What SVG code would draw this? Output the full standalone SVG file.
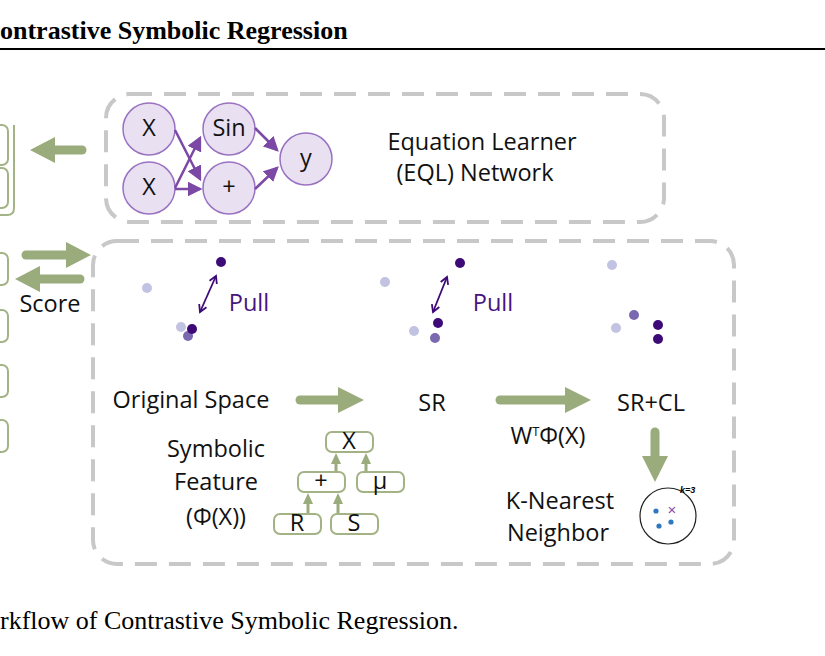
<svg xmlns="http://www.w3.org/2000/svg" width="825" height="656" viewBox="0 0 825 656">
<defs>
<style>
.t{font-family:"Open Sans","Liberation Sans",sans-serif;font-size:23.5px;fill:#111;text-anchor:middle}
.s{font-family:"Liberation Serif",serif;fill:#000}
.dash{fill:none;stroke:#c8c8c8;stroke-width:4;stroke-dasharray:22 12}
.n{fill:#e9e1f2;stroke:#9a72c2;stroke-width:1.5}
.e{stroke:#7b48a5;stroke-width:2.5;fill:none;marker-end:url(#pa)}
.g{stroke:#9aab7c;stroke-width:9;stroke-linecap:round;fill:none}
.gb{fill:#fff;stroke:#a3b386;stroke-width:2}
.gs{stroke:#9aab7c;stroke-width:3;fill:none}
.lb{fill:none;stroke:#a3b386;stroke-width:2}
</style>
<marker id="pa" markerWidth="6" markerHeight="6" refX="5" refY="3" orient="auto" markerUnits="strokeWidth"><path d="M0,0L6,3L0,6z" fill="#7b48a5"/></marker>
<marker id="pl" markerWidth="10" markerHeight="10" refX="8" refY="5" orient="auto" markerUnits="userSpaceOnUse"><path d="M1,1L8,5L1,9" fill="none" stroke="#3d0a78" stroke-width="1.8"/></marker>
<marker id="pls" markerWidth="10" markerHeight="10" refX="2" refY="5" orient="auto" markerUnits="userSpaceOnUse"><path d="M9,1L2,5L9,9" fill="none" stroke="#3d0a78" stroke-width="1.8"/></marker>
</defs>
<rect width="825" height="656" fill="#fff"/>
<text class="s" x="0" y="39" font-size="26" font-weight="bold">ontrastive Symbolic Regression</text>
<line x1="0" y1="49" x2="825" y2="49" stroke="#000" stroke-width="2"/>
<text class="s" x="0" y="629" font-size="26">rkflow of Contrastive Symbolic Regression.</text>

<g id="left-boxes">
<rect class="lb" x="-20" y="125" width="28" height="40" rx="6"/>
<rect class="lb" x="-20" y="168" width="28" height="40" rx="6"/>
<path class="lb" d="M14,125V208Q14,215 7,215H-5"/>
<rect class="lb" x="-20" y="253" width="28" height="32" rx="6"/>
<rect class="lb" x="-20" y="310" width="28" height="32" rx="6"/>
<rect class="lb" x="-20" y="365" width="28" height="32" rx="6"/>
<rect class="lb" x="-20" y="420" width="28" height="32" rx="6"/>
</g>

<g id="eql">
<rect class="dash" x="106" y="94" width="558" height="128" rx="24"/>
<text class="t" x="482" y="150">Equation Learner</text>
<text class="t" x="475" y="181">(EQL) Network</text>
</g>
<g id="nodes">
<g id="nx1"><circle class="n" cx="149" cy="129" r="26"/><text class="t" x="149" y="136" font-size="18">X</text></g>
<g id="nx2"><circle class="n" cx="149" cy="188" r="26"/><text class="t" x="149" y="195" font-size="18">X</text></g>
<g id="nsin"><circle class="n" cx="229" cy="129" r="26"/><text class="t" x="229" y="136" font-size="18">Sin</text></g>
<g id="nplus"><circle class="n" cx="229" cy="188" r="26"/><text class="t" x="229" y="195" font-size="18">+</text></g>
<g id="ny"><circle class="n" cx="306" cy="159" r="26"/><text class="t" x="306" y="166" font-size="18">y</text></g>
</g>
<g id="connectors">
<line class="e" x1="175" y1="130" x2="200" y2="179"/>
<line class="e" x1="175" y1="188" x2="200" y2="138"/>
<line class="e" x1="175" y1="189" x2="200" y2="189"/>
<line class="e" x1="255" y1="128" x2="277" y2="150"/>
<line class="e" x1="255" y1="189" x2="277" y2="168"/>
<line class="g" x1="82" y1="150" x2="52" y2="150"/><path d="M30,150L55,137V163z" fill="#9aab7c"/>
<line class="g" x1="26" y1="255" x2="68" y2="255"/><path d="M91,255L66,242V268z" fill="#9aab7c"/>
<line class="g" x1="80" y1="279" x2="38" y2="279"/><path d="M15,279L40,266V292z" fill="#9aab7c"/>
<line class="g" x1="300" y1="400" x2="340" y2="400"/><path d="M364,400L338,387V413z" fill="#9aab7c"/>
<line class="g" x1="500" y1="400" x2="566" y2="400"/><path d="M591,400L565,387V413z" fill="#9aab7c"/>
<line class="g" x1="655" y1="432" x2="655" y2="458"/><path d="M655,482L642,456H668z" fill="#9aab7c"/>
<line class="gs" x1="308" y1="514" x2="308" y2="502"/><path d="M308,493L303,504H313z" fill="#9aab7c"/>
<line class="gs" x1="338" y1="514" x2="338" y2="502"/><path d="M338,493L333,504H343z" fill="#9aab7c"/>
<line class="gs" x1="336" y1="472" x2="336" y2="462"/><path d="M336,453L331,464H341z" fill="#9aab7c"/>
<line class="gs" x1="366" y1="472" x2="366" y2="462"/><path d="M366,453L361,464H371z" fill="#9aab7c"/>
<line x1="200" y1="312" x2="216" y2="276" stroke="#3d0a78" stroke-width="1.8" marker-end="url(#pl)" marker-start="url(#pls)"/>
<line x1="433" y1="312" x2="447" y2="277" stroke="#3d0a78" stroke-width="1.8" marker-end="url(#pl)" marker-start="url(#pls)"/>
</g>

<g id="cl">
<rect class="dash" x="93" y="241" width="641" height="323" rx="24"/>
<text class="t" x="50" y="312">Score</text>
<circle cx="147" cy="288" r="5" fill="#c2c2e2"/><circle cx="221" cy="262" r="5" fill="#3d0a78"/>
<circle cx="181" cy="327" r="5" fill="#c2c2e2"/><circle cx="188" cy="336" r="5" fill="#7a68b0"/><circle cx="192" cy="329" r="5" fill="#3d0a78"/>
<text class="t" x="249" y="311" style="fill:#45157f">Pull</text>
<circle cx="385" cy="282" r="5" fill="#c2c2e2"/><circle cx="460" cy="263" r="5" fill="#3d0a78"/>
<circle cx="414" cy="331" r="5" fill="#c2c2e2"/><circle cx="435" cy="338" r="5" fill="#7a68b0"/><circle cx="438" cy="323" r="5" fill="#3d0a78"/>
<text class="t" x="493" y="311" style="fill:#45157f">Pull</text>
<circle cx="612" cy="265" r="5" fill="#c2c2e2"/><circle cx="616" cy="328" r="5" fill="#c2c2e2"/><circle cx="634" cy="315" r="5" fill="#7a68b0"/>
<circle cx="658" cy="325" r="5" fill="#3d0a78"/><circle cx="658" cy="339" r="5" fill="#3d0a78"/>
<text class="t" x="191" y="408">Original Space</text>
<text class="t" x="432" y="411">SR</text>
<text class="t" x="651" y="411">SR+CL</text>
<text class="t" x="216" y="457">Symbolic</text>
<text class="t" x="216" y="490">Feature</text>
<text class="t" x="216" y="525">(Φ(X))</text>
<text class="t" x="548" y="444">W<tspan font-size="13" dy="-8">T</tspan><tspan dy="8">Φ(X)</tspan></text>
<text class="t" x="560" y="509">K-Nearest</text>
<text class="t" x="558" y="541">Neighbor</text>
<circle cx="668" cy="516" r="28" fill="#fff" stroke="#222" stroke-width="1.2"/>
<text x="680" y="493" font-family="Liberation Sans,sans-serif" font-size="9" font-weight="bold" font-style="italic">k=3</text>
<circle cx="656" cy="511" r="2.6" fill="#2f78bf"/><circle cx="659" cy="526" r="2.6" fill="#2f78bf"/><circle cx="671" cy="522" r="2.6" fill="#2f78bf"/>
<text x="672" y="515" font-family="Liberation Sans,sans-serif" font-size="15" fill="#8a4aa8" text-anchor="middle">×</text>
</g>
<g id="tree">
<g id="tx"><rect class="gb" x="326" y="432" width="47" height="20" rx="6"/><text class="t" x="349" y="449" font-size="18">X</text></g>
<g id="tp"><rect class="gb" x="298" y="472" width="47" height="20" rx="6"/><text class="t" x="321" y="489" font-size="18">+</text></g>
<g id="tm"><rect class="gb" x="357" y="472" width="47" height="20" rx="6"/><text class="t" x="380" y="489" font-size="18">μ</text></g>
<g id="tr"><rect class="gb" x="274" y="514" width="47" height="20" rx="6"/><text class="t" x="297" y="531" font-size="18">R</text></g>
<g id="ts"><rect class="gb" x="331" y="514" width="47" height="20" rx="6"/><text class="t" x="354" y="531" font-size="18">S</text></g>
</g>
</svg>
